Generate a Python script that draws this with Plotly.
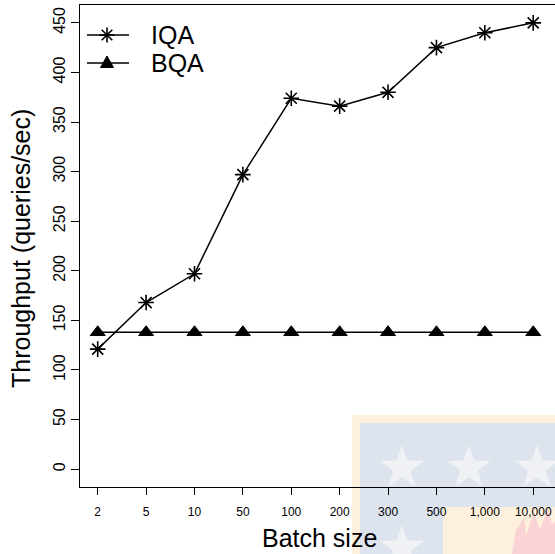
import math
import plotly.graph_objects as go

# ---- data ----
batch_sizes = ["2", "5", "10", "50", "100", "200", "300", "500", "1,000", "10,000"]
iqa_values = [121, 168, 197, 297, 374, 366, 380, 425, 440, 450]
bqa_values = [138, 138, 138, 138, 138, 138, 138, 138, 138, 138]
y_ticks = [0, 50, 100, 150, 200, 250, 300, 350, 400, 450]
series_names = ["IQA", "BQA"]

W, H = 555, 554
ML, MR, MT, MB = 80, 0, 5, 67
PW = W - ML - MR
PH = H - MT - MB
FONT = "Liberation Sans, Arial, Helvetica, sans-serif"


def px(x):
    return (x - ML) / PW


def py(y):
    return (H - MB - y) / PH


fig = go.Figure()
fig.add_trace(go.Scatter(
    x=batch_sizes, y=iqa_values, name=series_names[0], mode="lines+markers",
    line=dict(color="black", width=1.5),
    marker=dict(symbol="asterisk-open", size=13, color="black",
                line=dict(color="black", width=1.6)),
))
fig.add_trace(go.Scatter(
    x=batch_sizes, y=bqa_values, name=series_names[1], mode="lines+markers",
    line=dict(color="black", width=1.5),
    marker=dict(symbol="triangle-up", size=13, color="black",
                line=dict(color="black", width=1)),
))

shapes = []

# ---- watermark (decorative) ----
def rect(x0, y0, x1, y1, color):
    shapes.append(dict(type="rect", xref="paper", yref="paper",
                       x0=px(x0), x1=px(x1), y0=py(y1), y1=py(y0),
                       fillcolor=color, line=dict(width=0), layer="below"))

rect(352, 415, 556, 555, "#fdf1de")
rect(360, 423, 556, 555, "#dde4ee")
rect(443, 507, 556, 555, "#fdf1de")

def star(cx, cy, r, color):
    pts = []
    for k in range(10):
        ang = -math.pi / 2 + k * math.pi / 5
        rr = r if k % 2 == 0 else r * 0.4
        pts.append((px(cx + rr * math.cos(ang)), py(cy + rr * math.sin(ang))))
    path = "M" + " L".join(f"{a:.5f},{b:.5f}" for a, b in pts) + " Z"
    shapes.append(dict(type="path", xref="paper", yref="paper", path=path,
                       fillcolor=color, line=dict(width=0), layer="below"))

for cx in (402, 469, 537):
    star(cx, 468, 23, "#eff1f4")
star(402, 548, 23, "#eff1f4")

flame = [(512, 554), (516, 530), (524, 518), (526, 535), (534, 512), (540, 530),
         (548, 508), (552, 525), (556, 520), (556, 554)]
shapes.append(dict(type="path", xref="paper", yref="paper",
                   path="M" + " L".join(f"{px(a):.5f},{py(b):.5f}" for a, b in flame) + " Z",
                   fillcolor="#f9d3d5", line=dict(width=0), layer="below"))

# ---- legend (drawn, no box) ----
def seg(x0, y0, x1, y1, w=1.5):
    shapes.append(dict(type="line", xref="paper", yref="paper",
                       x0=px(x0), y0=py(y0), x1=px(x1), y1=py(y1),
                       line=dict(color="black", width=w)))

LEG_X0, LEG_X1, LEG_MX = 87, 129, 107
LEG_Y = [35, 63]
# IQA sample
seg(LEG_X0, LEG_Y[0], LEG_X1, LEG_Y[0])
r1, r2 = 7.5, 5.3
seg(LEG_MX, LEG_Y[0] - r1, LEG_MX, LEG_Y[0] + r1, 1.6)
seg(LEG_MX - r1, LEG_Y[0], LEG_MX + r1, LEG_Y[0], 1.6)
seg(LEG_MX - r2, LEG_Y[0] - r2, LEG_MX + r2, LEG_Y[0] + r2, 1.6)
seg(LEG_MX - r2, LEG_Y[0] + r2, LEG_MX + r2, LEG_Y[0] - r2, 1.6)
# BQA sample
seg(LEG_X0, LEG_Y[1], LEG_X1, LEG_Y[1])
tri = [(LEG_MX - 6.5, LEG_Y[1] + 4.5), (LEG_MX + 6.5, LEG_Y[1] + 4.5), (LEG_MX, LEG_Y[1] - 7)]
shapes.append(dict(type="path", xref="paper", yref="paper",
                   path="M" + " L".join(f"{px(a):.5f},{py(b):.5f}" for a, b in tri) + " Z",
                   fillcolor="black", line=dict(color="black", width=1)))

annotations = [
    dict(text="Batch size", xref="paper", yref="paper", x=px(319), y=py(538),
         xanchor="center", yanchor="middle", showarrow=False,
         font=dict(size=25, family=FONT, color="black")),
    dict(text="Throughput (queries/sec)", xref="paper", yref="paper",
         x=px(21), y=py(249), xanchor="center", yanchor="middle",
         textangle=-90, showarrow=False,
         font=dict(size=25, family=FONT, color="black")),
]
for name, ly in zip(series_names, LEG_Y):
    annotations.append(dict(text=name, xref="paper", yref="paper",
                            x=px(149), y=py(ly), xanchor="left", yanchor="middle",
                            showarrow=False,
                            font=dict(size=25, family=FONT, color="black")))

fig.update_layout(
    width=W, height=H,
    margin=dict(l=ML, r=MR, t=MT, b=MB),
    paper_bgcolor="white", plot_bgcolor="white",
    font=dict(family=FONT, color="black"),
    shapes=shapes,
    showlegend=False,
    annotations=annotations,
)

fig.update_xaxes(
    type="category", categoryorder="array", categoryarray=batch_sizes,
    range=[-0.366, 9.45],
    showline=True, mirror=True, linecolor="black", linewidth=1.2,
    ticks="outside", ticklen=7, tickwidth=1, tickcolor="black",
    ticklabelstandoff=6,
    tickfont=dict(size=12, family=FONT, color="black"),
    showgrid=False, zeroline=False, fixedrange=True,
)
fig.update_yaxes(
    range=[-18, 468],
    tickvals=y_ticks, ticktext=[str(v) for v in y_ticks],
    tickangle=-90,
    showline=True, mirror=False, linecolor="black", linewidth=1.2,
    ticks="outside", ticklen=8, tickwidth=1, tickcolor="black",
    tickfont=dict(size=16, family=FONT, color="black"),
    showgrid=False, zeroline=False, fixedrange=True,
)

fig.write_html("out.html")
